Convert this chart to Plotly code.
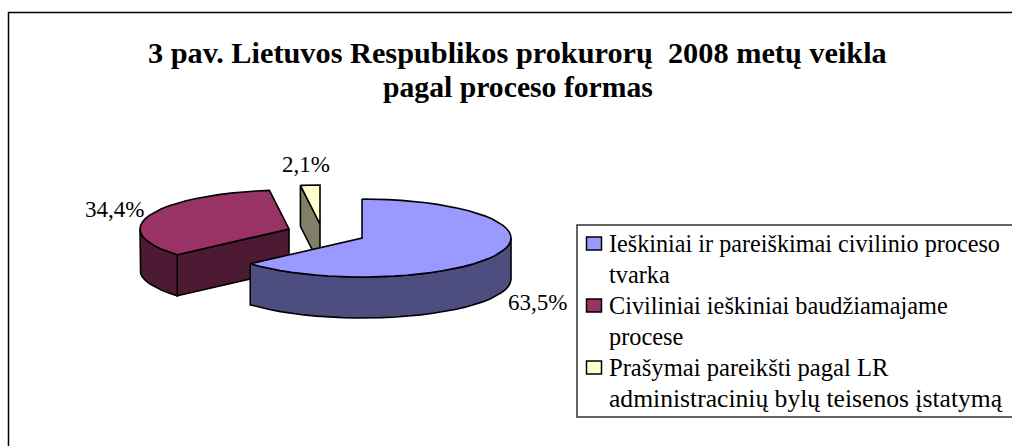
import numpy as np
import plotly.graph_objects as go

title_lines = ["3 pav. Lietuvos Respublikos prokurorų  2008 metų veikla", "pagal proceso formas"]
categories = ["Ieškiniai ir pareiškimai civilinio proceso tvarka",
              "Civiliniai ieškiniai baudžiamajame procese",
              "Prašymai pareikšti pagal LR administracinių bylų teisenos įstatymą"]
legend_lines = [["Ieškiniai ir pareiškimai civilinio proceso", "tvarka"],
                ["Civiliniai ieškiniai baudžiamajame", "procese"],
                ["Prašymai pareikšti pagal LR", "administracinių bylų teisenos įstatymą"]]
legend_sizes = [[24.2, 24.3], [24.3, 24.3], [24.6, 25.6]]
values = [63.5, 34.4, 2.1]
value_labels = ["63,5%", "34,4%", "2,1%"]
top_colors = ["#9999FF", "#993366", "#FFFFCC"]
side_colors = ["#4D4D80", "#4D1A33", "#808066"]
centers = [(362, 238), (289, 229), (320, 224)]
label_pos = [(537, 302), (114, 209), (306, 164)]

RX, RY, DEPTH = 149, 39, 41
STEP = 5

def rim(cx, cy, a0, a1):
    n = max(2, int(abs(a1 - a0) / STEP) + 1)
    a = np.radians(np.linspace(a0, a1, n))
    return cx + RX * np.sin(a), cy - RY * np.cos(a)

fig = go.Figure()

def poly(xs, ys, fill):
    fig.add_trace(go.Scatter(x=list(xs) + [xs[0]], y=list(ys) + [ys[0]], mode="lines", fill="toself",
                             fillcolor=fill, line=dict(color="black", width=1.6),
                             hoverinfo="skip", showlegend=False))

edges = np.cumsum([0] + values) * 3.6
# back to front: yellow, red, blue
for i in [2, 1, 0]:
    a0, a1 = edges[i], edges[i + 1]
    cx, cy = centers[i]
    # cut face at the opening edge that faces the viewer
    if 180 < a0 < 360:
        ex, ey = rim(cx, cy, a0, a0)
        ex, ey = ex[0], ey[0]
        poly([cx, ex, ex, cx], [cy, ey, ey + DEPTH, cy + DEPTH], side_colors[i])
    # outer wall: the part of the rim in the front half (90..270 degrees)
    s0, s1 = max(a0, 90), min(a1, 270)
    if s1 > s0:
        x, y = rim(cx, cy, s0, s1)
        poly(list(x) + list(x[::-1]), list(y) + list((y + DEPTH)[::-1]), side_colors[i])
    # top
    x, y = rim(cx, cy, a0, a1)
    poly(list(x) + [cx], list(y) + [cy], top_colors[i])

annotations = []
def text(x, y, s, size, bold=False, anchor="left"):
    annotations.append(dict(x=x, y=y, xref="x", yref="y", text=f"<b>{s}</b>" if bold else s, showarrow=False,
                            xanchor=anchor, yanchor="middle",
                            font=dict(family="Liberation Serif", size=size, color="black")))

text(517, 53, title_lines[0], 30.3, True, "center")
text(518, 87, title_lines[1], 29.7, True, "center")
for (lx, ly), s in zip(label_pos, value_labels):
    text(lx, ly, s, 23, anchor="center")

shapes = [
    dict(type="rect", x0=8.5, y0=12.5, x1=1030, y1=470, line=dict(color="black", width=1.5), layer="below"),
    dict(type="rect", x0=577, y0=225, x1=1030, y1=417, line=dict(color="#333333", width=1.5), layer="below"),
]
line_y = 243
for i, lines in enumerate(legend_lines):
    shapes.append(dict(type="rect", x0=586.5, y0=line_y - 6, x1=601.5, y1=line_y + 7,
                       fillcolor=top_colors[i], line=dict(color="black", width=1.5)))
    for s, sz in zip(lines, legend_sizes[i]):
        text(607, line_y, s, sz)
        line_y += 31

fig.update_layout(
    width=1012, height=446, margin=dict(l=0, r=0, t=0, b=0), autosize=False,
    paper_bgcolor="white", plot_bgcolor="white", showlegend=False,
    xaxis=dict(range=[0, 1012], visible=False, fixedrange=True),
    yaxis=dict(range=[446, 0], visible=False, fixedrange=True),
    shapes=shapes, annotations=annotations,
)
fig.write_html("out.html", config=dict(displayModeBar=False),
               post_script="document.body.style.margin='0';document.documentElement.style.overflow='hidden';")
